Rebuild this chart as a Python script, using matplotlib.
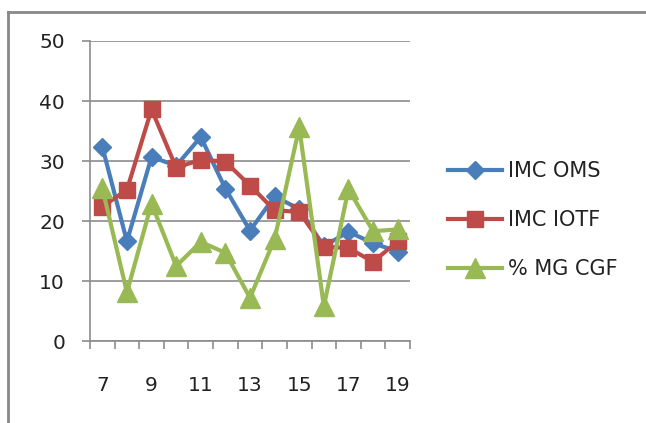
import matplotlib
matplotlib.use("Agg")
import matplotlib.pyplot as plt
from matplotlib.lines import Line2D
import numpy as np

categories = ["7", "8", "9", "10", "11", "12", "13", "14", "15", "16", "17", "18", "19"]
imc_oms = [32.4, 16.6, 30.7, 29.2, 34.0, 25.4, 18.4, 24.1, 22.0, 15.8, 18.2, 16.3, 14.9]
imc_iotf = [22.4, 25.2, 38.6, 28.9, 30.2, 29.9, 25.9, 21.8, 21.5, 15.7, 15.5, 13.2, 16.6]
mg_cgf = [25.5, 8.1, 22.9, 12.5, 16.5, 14.7, 7.2, 17.0, 35.6, 5.8, 25.3, 18.3, 18.6]
series_labels = ["IMC OMS", "IMC IOTF", "% MG CGF"]
yticks = [0, 10, 20, 30, 40, 50]

W, H = 646, 423
fig = plt.figure(figsize=(W / 100, H / 100), dpi=100)
plt.rcParams['font.family'] = ['DejaVu Sans']

ax = fig.add_axes([90 / W, 1 - 341 / H, 320 / W, 300 / H])
x = np.arange(len(categories))

blue = "#4A7EBB"
red = "#BE4B48"
green = "#98B954"
grid_c = "#8C8C8C"

ax.plot(x, imc_oms, color=blue, lw=3, marker="D", ms=9, mec=blue, mfc=blue,
        label=series_labels[0], solid_joinstyle="round", zorder=3)
ax.plot(x, imc_iotf, color=red, lw=3, marker="s", ms=12, mec=red, mfc=red,
        label=series_labels[1], solid_joinstyle="round", zorder=4)
ax.plot(x, mg_cgf, color=green, lw=3, marker="^", ms=14, mec=green, mfc=green,
        label=series_labels[2], solid_joinstyle="round", zorder=5)

ax.set_xlim(-0.5, len(categories) - 0.5)
ax.set_ylim(0, 50)
ax.set_yticks(yticks)
ax.set_yticklabels([str(v) for v in yticks], fontsize=14.5, color="#222222")
ax.yaxis.grid(True, color=grid_c, lw=1.2)
ax.set_axisbelow(True)

ax.set_xticks(x[::2])
ax.set_xticklabels(categories[::2], fontsize=14.5, color="#222222")
ax.set_xticks(np.arange(-0.5, len(categories), 1.0), minor=True)
ax.tick_params(axis="x", which="major", length=0, pad=25)
ax.tick_params(axis="x", which="minor", length=6, width=1.2, color=grid_c, direction="out")
ax.tick_params(axis="y", length=6, width=1.2, color=grid_c, pad=12)

for s in ["top", "right"]:
    ax.spines[s].set_visible(False)
for s in ["left", "bottom"]:
    ax.spines[s].set_color(grid_c)
    ax.spines[s].set_linewidth(1.2)

leg = ax.legend(loc="center left", bbox_to_anchor=(448 / W, 1 - 220 / H),
                bbox_transform=fig.transFigure, frameon=False, fontsize=15,
                handlelength=2.6, handletextpad=0.3, labelspacing=1.4,
                borderpad=0, borderaxespad=0)
for t in leg.get_texts():
    t.set_color("#222222")

# outer chart border (partially visible)
fig.add_artist(Line2D([8 / W, 8 / W], [0, 1 - 12 / H], transform=fig.transFigure,
                      color="#888888", lw=2))
fig.add_artist(Line2D([8 / W, 1], [1 - 12 / H, 1 - 12 / H], transform=fig.transFigure,
                      color="#888888", lw=2))

fig.savefig("out.png", dpi=100)
